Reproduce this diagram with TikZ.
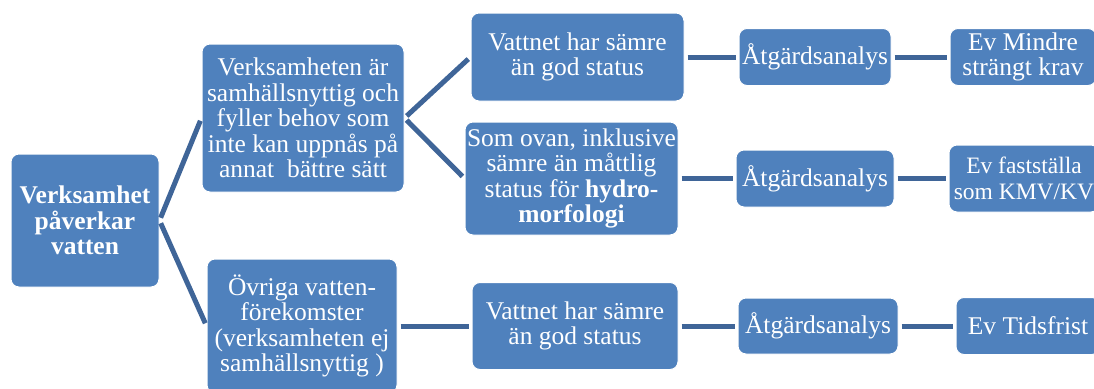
\documentclass[tikz,border=0pt]{standalone}
\usepackage{fontspec}
\setmainfont{Liberation Serif}
\usetikzlibrary{positioning}
\definecolor{vaBox}{HTML}{4F81BD}
\definecolor{vaLine}{HTML}{3F6598}

\begin{document}
\begin{tikzpicture}[x=1pt, y=-1pt, font=\fontsize{25.5}{25.5}\selectfont,
  vabox/.style={draw=white, line width=1pt, fill=vaBox, text=white, rounded corners=8pt, align=center, inner sep=0pt},
  valink/.style={draw=vaLine, line width=5pt, shorten <=3pt, shorten >=3pt}]
  \useasboundingbox (0,0) rectangle (1094,388);
  \clip (0,0) rectangle (1094,388);
  % first level
  \node[vabox, minimum width=148pt, minimum height=133pt] (root) at (85,220.5) {\textbf{Verksamhet}\\\textbf{påverkar}\\\textbf{vatten}};
  % second level
  \node[vabox, minimum width=202pt, minimum height=148pt] (nyttig) at (303,118) {Verksamheten är\\samhällsnyttig och\\fyller behov som\\inte kan uppnås på\\annat~ bättre sätt};
  \node[vabox, minimum width=190pt, minimum height=134pt] (ovriga) at (302,326) {Övriga vatten-\\förekomster\\(verksamheten ej\\samhällsnyttig )};
  % status
  \node[vabox, minimum width=213pt, minimum height=88pt] (status1) at (577.5,57) {Vattnet har sämre\\än god status};
  \node[vabox, minimum width=213pt, minimum height=113pt] (status2) at (571.5,178.5) {Som ovan, inklusive\\sämre än måttlig\\status för \textbf{hydro-}\\\textbf{morfologi}};
  \node[vabox, minimum width=206pt, minimum height=87pt] (status3) at (575,326) {Vattnet har sämre\\än god status};
  % analys
  \node[vabox, minimum width=152pt, minimum height=57pt] (analys1) at (815,57) {Åtgärdsanalys};
  \node[vabox, minimum width=158pt, minimum height=57pt] (analys2) at (815,178.5) {Åtgärdsanalys};
  \node[vabox, minimum width=160pt, minimum height=56pt] (analys3) at (818,326) {Åtgärdsanalys};
  % utfall
  \node[vabox, minimum width=146pt, minimum height=57pt] (utfall1) at (1023,57) {Ev Mindre\\strängt krav};
  \node[vabox, minimum width=150pt, minimum height=67pt, font=\fontsize{23.5}{25.5}\selectfont] (utfall2) at (1024,178.5) {Ev fastställa\\som KMV/KV};
  \node[vabox, minimum width=144pt, minimum height=57pt] (utfall3) at (1028,326) {Ev Tidsfrist};

  \foreach \a/\b in {root/nyttig, root/ovriga, nyttig/status1, nyttig/status2, ovriga/status3,
    status1/analys1, status2/analys2, status3/analys3, analys1/utfall1, analys2/utfall2, analys3/utfall3}
    \draw[valink] (\a.east) -- (\b.west);
\end{tikzpicture}
\end{document}
